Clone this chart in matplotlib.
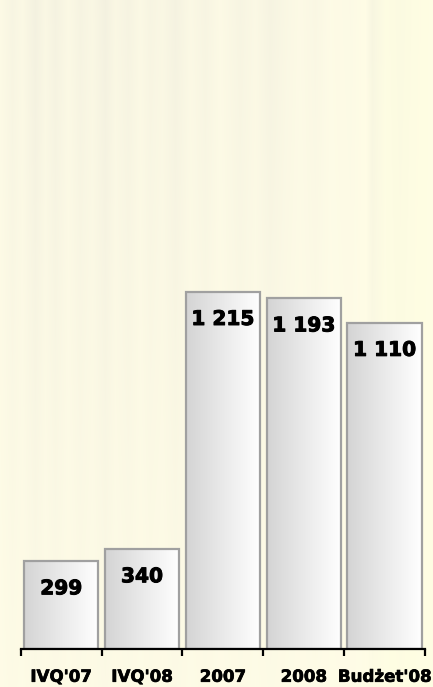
import numpy as np
import matplotlib
matplotlib.use('Agg')
import matplotlib.pyplot as plt
import matplotlib.patheffects as pe

# Dane
categories = ["IVQ'07", "IVQ'08", "2007", "2008", "Budżet'08"]
values = [299, 340, 1215, 1193, 1110]


def fmt(v):
    return f"{v:,}".replace(',', ' ')


fig = plt.figure(figsize=(4.33, 6.87), dpi=100)

# Tło: kremowe, z pionowymi smugami u góry
bg = fig.add_axes([0, 0, 1, 1], zorder=0)
bg.axis('off')
streak_x = [0, 12, 22, 35, 45, 55, 68, 80, 92, 105, 115, 128, 140, 150, 162,
            175, 190, 205, 220, 240, 255, 270, 285, 300, 315, 330, 350, 365,
            372, 385, 400, 415, 433]
streak_v = [0.01, 0.03, 0.015, 0.045, 0.02, 0.04, 0.015, 0.035, 0.02, 0.045,
            0.02, 0.035, 0.015, 0.03, 0.02, 0.04, 0.015, 0.03, 0.01, 0.03,
            0.015, 0.035, 0.02, 0.01, 0.02, 0.005, 0.01, 0.0, 0.03, 0.005,
            0.015, 0.005, 0.0]
xs = np.arange(433)
shade = np.interp(xs, streak_x, streak_v)
fade = np.linspace(1.0, 0.25, 687)[:, None]
dark = shade[None, :] * fade
base = np.array([1.0, 0.99, 0.905])
tint = np.array([1.0, 1.0, 0.6])
img = base[None, None, :] - dark[:, :, None] * tint[None, None, :]
yel = np.interp(xs, [0, 355, 390, 433], [0, 0, 0.7, 0.7])[None, :, None]
img = np.clip(img + yel * np.array([0.0, 0.008, -0.02]), 0, 1)
bg.imshow(img, extent=(0, 1, 0, 1), aspect='auto')
bg.set_xlim(0, 1)
bg.set_ylim(0, 1)

ax = fig.add_axes([20.7 / 433, 38 / 687, 404.3 / 433, 649 / 687], zorder=1)
ax.patch.set_alpha(0)

x = np.arange(len(categories))
width = 0.92
bars = ax.bar(x, values, width=width, facecolor='none',
              edgecolor='#a0a0a0', linewidth=1.6, zorder=3)

grad = np.linspace(0, 1, 256)[None, :]
cmap = matplotlib.colors.LinearSegmentedColormap.from_list(
    'bar', ['#d4d4d4', '#eaeaea', '#ffffff'])
for b in bars:
    x0, w, h = b.get_x(), b.get_width(), b.get_height()
    im = ax.imshow(grad, extent=(x0, x0 + w, 0, h), aspect='auto',
                   cmap=cmap, zorder=2)
    im.set_clip_path(b)

# pogrubienie napisów (Verdana Bold jest grubsza niż DejaVu Bold)
heavy = [pe.withStroke(linewidth=0.7, foreground='black')]

for xi, v in zip(x, values):
    ax.annotate(fmt(v), (xi, v), xytext=(0, -20), textcoords='offset points',
                ha='center', va='center', fontsize=14.5, fontweight='bold',
                color='black', zorder=4, path_effects=heavy)

ax.set_xlim(-0.5, len(categories) - 0.5)
ax.set_ylim(0, 2207)

for s in ['top', 'right', 'left']:
    ax.spines[s].set_visible(False)
ax.spines['bottom'].set_linewidth(1.6)
ax.spines['bottom'].set_zorder(5)
ax.set_yticks([])

ax.set_xticks(x)
ax.set_xticklabels(categories, fontsize=12, fontweight='bold')
for lbl in ax.get_xticklabels():
    lbl.set_path_effects([pe.withStroke(linewidth=0.5, foreground='black')])
ax.tick_params(axis='x', which='major', length=0, pad=13.5)
ax.set_xticks(np.arange(len(categories) + 1) - 0.5, minor=True)
ax.tick_params(axis='x', which='minor', length=5, width=1.6, direction='out')

fig.savefig('out.png', dpi=100)
